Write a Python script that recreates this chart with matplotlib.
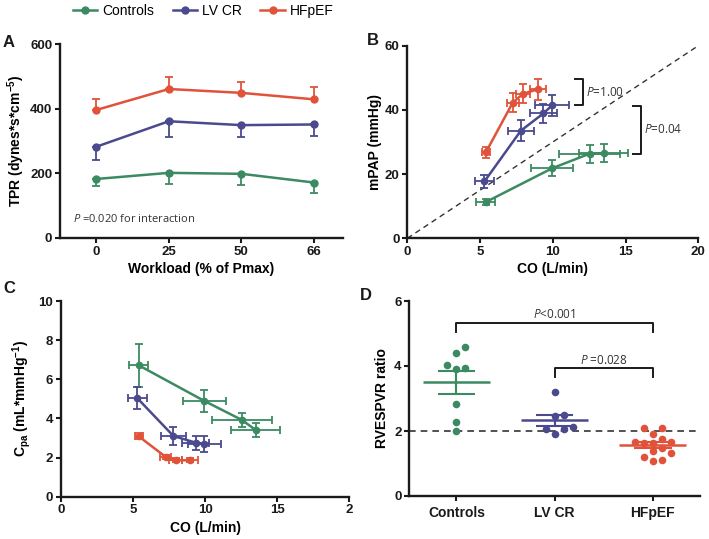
import numpy as np
import matplotlib
matplotlib.use("Agg")
import matplotlib.pyplot as plt
from matplotlib.lines import Line2D

# ---------------- data ----------------
groups = ["Controls", "LV CR", "HFpEF"]

# Panel A: TPR vs workload
workload_labels = ["0", "25", "50", "66"]
tpr_controls = [183, 202, 199, 172]
tpr_controls_err = [23, 35, 36, 31]
tpr_lvcr = [283, 362, 350, 352]
tpr_lvcr_err = [41, 48, 37, 36]
tpr_hfpef = [397, 462, 450, 430]
tpr_hfpef_err = [33, 36, 35, 39]

# Cardiac output (shared by B and C)
co_controls = [5.4, 9.95, 12.55, 13.5]
co_controls_err = [0.66, 1.47, 2.1, 1.7]
co_lvcr = [5.3, 7.8, 9.35, 9.95]
co_lvcr_err = [0.68, 0.89, 0.95, 1.15]
co_hfpef = [5.4, 7.25, 7.95, 8.95]
co_hfpef_err = [0.28, 0.4, 0.45, 0.55]

# Panel B: mPAP
mpap_controls = [11.3, 21.8, 26.4, 26.5]
mpap_controls_err = [0.95, 2.5, 2.8, 2.8]
mpap_lvcr = [17.7, 33.5, 38.9, 41.4]
mpap_lvcr_err = [1.9, 3.2, 2.9, 3.2]
mpap_hfpef = [26.8, 42.3, 45.0, 46.4]
mpap_hfpef_err = [1.7, 2.9, 3.0, 3.2]
mpap_ref_slope = 3.0

# Panel C: Cpa
cpa_controls = [6.71, 4.89, 3.92, 3.41]
cpa_controls_err = [1.1, 0.57, 0.38, 0.38]
cpa_lvcr = [5.03, 3.10, 2.76, 2.69]
cpa_lvcr_err = [0.55, 0.45, 0.36, 0.43]
cpa_hfpef = [3.08, 2.04, 1.86, 1.86]
cpa_hfpef_err = [0.15, 0.1, 0.1, 0.1]

# Panel D: RVESPVR ratio
rv_controls = [4.58, 4.39, 3.93, 3.91, 4.04, 2.83, 2.29, 2.01]
rv_lvcr = [3.21, 2.49, 2.46, 2.06, 1.91, 2.05, 2.13]
rv_hfpef = [2.08, 2.08, 1.90, 1.64, 1.74, 1.67, 1.67, 1.64, 1.47, 1.39,
            1.33, 1.21, 1.09, 1.11]
rv_threshold = 2.0

# ---------------- style ----------------
GREEN = "#3c8a62"
BLUE = "#4b4a8f"
RED = "#e0533a"
colors = [GREEN, BLUE, RED]
DARK = "#1a1a1a"

plt.rcParams["font.family"] = ["Liberation Sans", "DejaVu Sans"]
plt.rcParams["mathtext.fontset"] = "custom"
plt.rcParams["mathtext.rm"] = "Liberation Sans:bold"
plt.rcParams["mathtext.bf"] = "Liberation Sans:bold"
plt.rcParams["mathtext.it"] = "Open Sans:italic"
plt.rcParams["mathtext.sf"] = "Liberation Sans"

W, H = 709, 539
fig = plt.figure(figsize=(W / 100, H / 100), dpi=100)


def ax_px(l, t, r, b):
    return fig.add_axes([l / W, 1 - b / H, (r - l) / W, (b - t) / H])


def style(ax):
    for s in ["top", "right"]:
        ax.spines[s].set_visible(False)
    for s in ["left", "bottom"]:
        ax.spines[s].set_linewidth(1.7)
        ax.spines[s].set_color(DARK)
    ax.tick_params(direction="out", length=3.5, width=1.5, colors=DARK,
                   labelsize=9.5, pad=2)
    for lab in ax.get_xticklabels() + ax.get_yticklabels():
        lab.set_fontweight("bold")


LW = 1.8
MS = 5
ELW = 1.3
CAP = 3
PFS = 8.5

# ---------------- Panel A ----------------
axA = ax_px(60, 44.5, 343, 238)
xA = np.arange(len(workload_labels))
tprs = [tpr_controls, tpr_lvcr, tpr_hfpef]
tpr_errs = [tpr_controls_err, tpr_lvcr_err, tpr_hfpef_err]
for i, (v, e, c) in enumerate(zip(tprs, tpr_errs, colors)):
    e = np.array(e)
    if i == 2:
        yerr = [np.zeros_like(e), e]
    else:
        yerr = [e, np.zeros_like(e)]
    axA.errorbar(xA, v, yerr=yerr, color=c, lw=LW, marker="o", ms=MS,
                 elinewidth=ELW, capsize=CAP, capthick=ELW)
axA.set_xlim(-0.5, 3.4)
axA.set_ylim(0, 600)
axA.set_yticks([0, 200, 400, 600])
axA.set_xticks(xA)
axA.set_xticklabels(workload_labels)
style(axA)
axA.set_xlabel("Workload (% of Pmax)", fontsize=10, fontweight="bold", labelpad=3)
axA.set_ylabel("TPR (dynes*s*cm$^{-5}$)", fontsize=10, fontweight="bold", labelpad=2)
axA.text(0.045, 0.1, r"$P$ =0.020 for interaction", transform=axA.transAxes,
         fontsize=8, family="Open Sans", color="#333333", va="center")

# ---------------- Panel B ----------------
axB = ax_px(407.3, 45.7, 698.3, 238.3)
cos = [co_controls, co_lvcr, co_hfpef]
co_errs = [co_controls_err, co_lvcr_err, co_hfpef_err]
mpaps = [mpap_controls, mpap_lvcr, mpap_hfpef]
mpap_errs = [mpap_controls_err, mpap_lvcr_err, mpap_hfpef_err]
xs_ref = np.array([0, 20])
axB.plot(xs_ref, mpap_ref_slope * xs_ref, ls=(0, (4, 3)), color="#333333", lw=1.0)
for x, xe, y, ye, c in zip(cos, co_errs, mpaps, mpap_errs, colors):
    axB.errorbar(x, y, xerr=xe, yerr=ye, color=c, lw=LW, marker="o", ms=4.5,
                 elinewidth=ELW, capsize=CAP, capthick=ELW)
axB.set_xlim(0, 20)
axB.set_ylim(0, 60)
axB.set_xticks([0, 5, 10, 15, 20])
axB.set_yticks([0, 20, 40, 60])
style(axB)
axB.set_xlabel("CO (L/min)", fontsize=10, fontweight="bold", labelpad=3)
axB.set_ylabel("mPAP (mmHg)", fontsize=10, fontweight="bold", labelpad=2)
# brackets
axB.plot([11.5, 12.05, 12.05, 11.5], [49.6, 49.6, 41.5, 41.5], color=DARK, lw=1.4)
axB.text(12.3, 45.5, r"$P$=1.00", fontsize=PFS, family="Open Sans", color="#333333",
         va="center")
axB.plot([15.5, 16.05, 16.05, 15.5], [41.2, 41.2, 26.3, 26.3], color=DARK, lw=1.4)
axB.text(16.3, 34.0, r"$P$=0.04", fontsize=PFS, family="Open Sans", color="#333333",
         va="center")

# ---------------- Panel C ----------------
axC = ax_px(61, 301, 349.3, 496.7)
cpas = [cpa_controls, cpa_lvcr, cpa_hfpef]
cpa_errs = [cpa_controls_err, cpa_lvcr_err, cpa_hfpef_err]
for x, xe, y, ye, c in zip(cos, co_errs, cpas, cpa_errs, colors):
    axC.errorbar(x, y, xerr=xe, yerr=ye, color=c, lw=LW, marker="o", ms=4.5,
                 elinewidth=ELW, capsize=CAP, capthick=ELW)
axC.set_xlim(0, 20)
axC.set_ylim(0, 10)
axC.set_xticks([0, 5, 10, 15, 20])
axC.set_xticklabels(["0", "5", "10", "15", "2"])
axC.set_yticks([0, 2, 4, 6, 8, 10])
style(axC)
axC.set_xlabel("CO (L/min)", fontsize=10, fontweight="bold", labelpad=3)
axC.set_ylabel(r"C$_{\mathrm{pa}}$ (mL*mmHg$^{-1}$)", fontsize=10, fontweight="bold",
               labelpad=4)

# ---------------- Panel D ----------------
axD = ax_px(409.3, 301, 700, 496)
rvs = [rv_controls, rv_lvcr, rv_hfpef]
axD.set_xlim(-0.48, 2.48)
axD.set_ylim(0, 6)

# simple beeswarm in pixel space
ypx_per_unit = 195.0 / 6.0
xpx_per_unit = 98.3
step_px = 9.0
diam_px = 8.0


def swarm(vals):
    order = np.argsort(vals, kind="stable")
    placed = []
    offs = np.zeros(len(vals))
    cand = [0, 1, -1, 2, -2, 3, -3]
    for idx in order:
        y = vals[idx] * ypx_per_unit
        for k in cand:
            x = k * step_px
            if all((x - px) ** 2 + (y - py) ** 2 >= diam_px ** 2 for px, py in placed):
                placed.append((x, y))
                offs[idx] = x / xpx_per_unit
                break
    return offs


axD.axhline(rv_threshold, ls=(0, (4, 3)), color="#333333", lw=1.2, zorder=1)
for i, (v, c) in enumerate(zip(rvs, colors)):
    v = np.array(v)
    offs = swarm(v)
    axD.scatter(i + offs, v, s=30, color=c, zorder=3, linewidths=0)
    m = v.mean()
    sem = v.std(ddof=1) / np.sqrt(len(v))
    axD.hlines(m, i - 0.34, i + 0.34, color=c, lw=1.8, zorder=4)
    axD.hlines([m - sem, m + sem], i - 0.19, i + 0.19, color=c, lw=1.5, zorder=4)
    axD.vlines(i, m - sem, m + sem, color=c, lw=1.5, zorder=4)
axD.set_xticks(range(len(groups)))
axD.set_xticklabels(groups)
axD.set_yticks([0, 2, 4, 6])
style(axD)
axD.tick_params(axis="x", labelsize=10, pad=4)
axD.set_ylabel("RVESPVR ratio", fontsize=10, fontweight="bold", labelpad=4)
axD.plot([0, 0, 2, 2], [5.06, 5.33, 5.33, 5.06], color=DARK, lw=1.4)
axD.text(1.0, 5.57, r"$P$<0.001", fontsize=PFS, family="Open Sans", color="#333333",
         ha="center", va="center")
axD.plot([1, 1, 2, 2], [3.65, 3.93, 3.93, 3.65], color=DARK, lw=1.4)
axD.text(1.5, 4.18, r"$P$ =0.028", fontsize=PFS, family="Open Sans", color="#333333",
         ha="center", va="center")

# ---------------- legend & panel letters ----------------
handles = [Line2D([], [], color=c, lw=LW, marker="o", ms=MS) for c in colors]
fig.legend(handles, groups, loc="center", bbox_to_anchor=(0.287, 0.980),
           ncol=3, frameon=False, fontsize=10, handlelength=1.75,
           handletextpad=0.4, columnspacing=1.3, borderpad=0, borderaxespad=0)

for letter, (px, py) in zip("ABCD", [(3, 47), (367, 45), (3, 293), (360, 300)]):
    fig.text(px / W, 1 - py / H, letter, fontsize=12, fontweight="bold",
             color=DARK, va="baseline")

fig.savefig("out.png", dpi=100)
